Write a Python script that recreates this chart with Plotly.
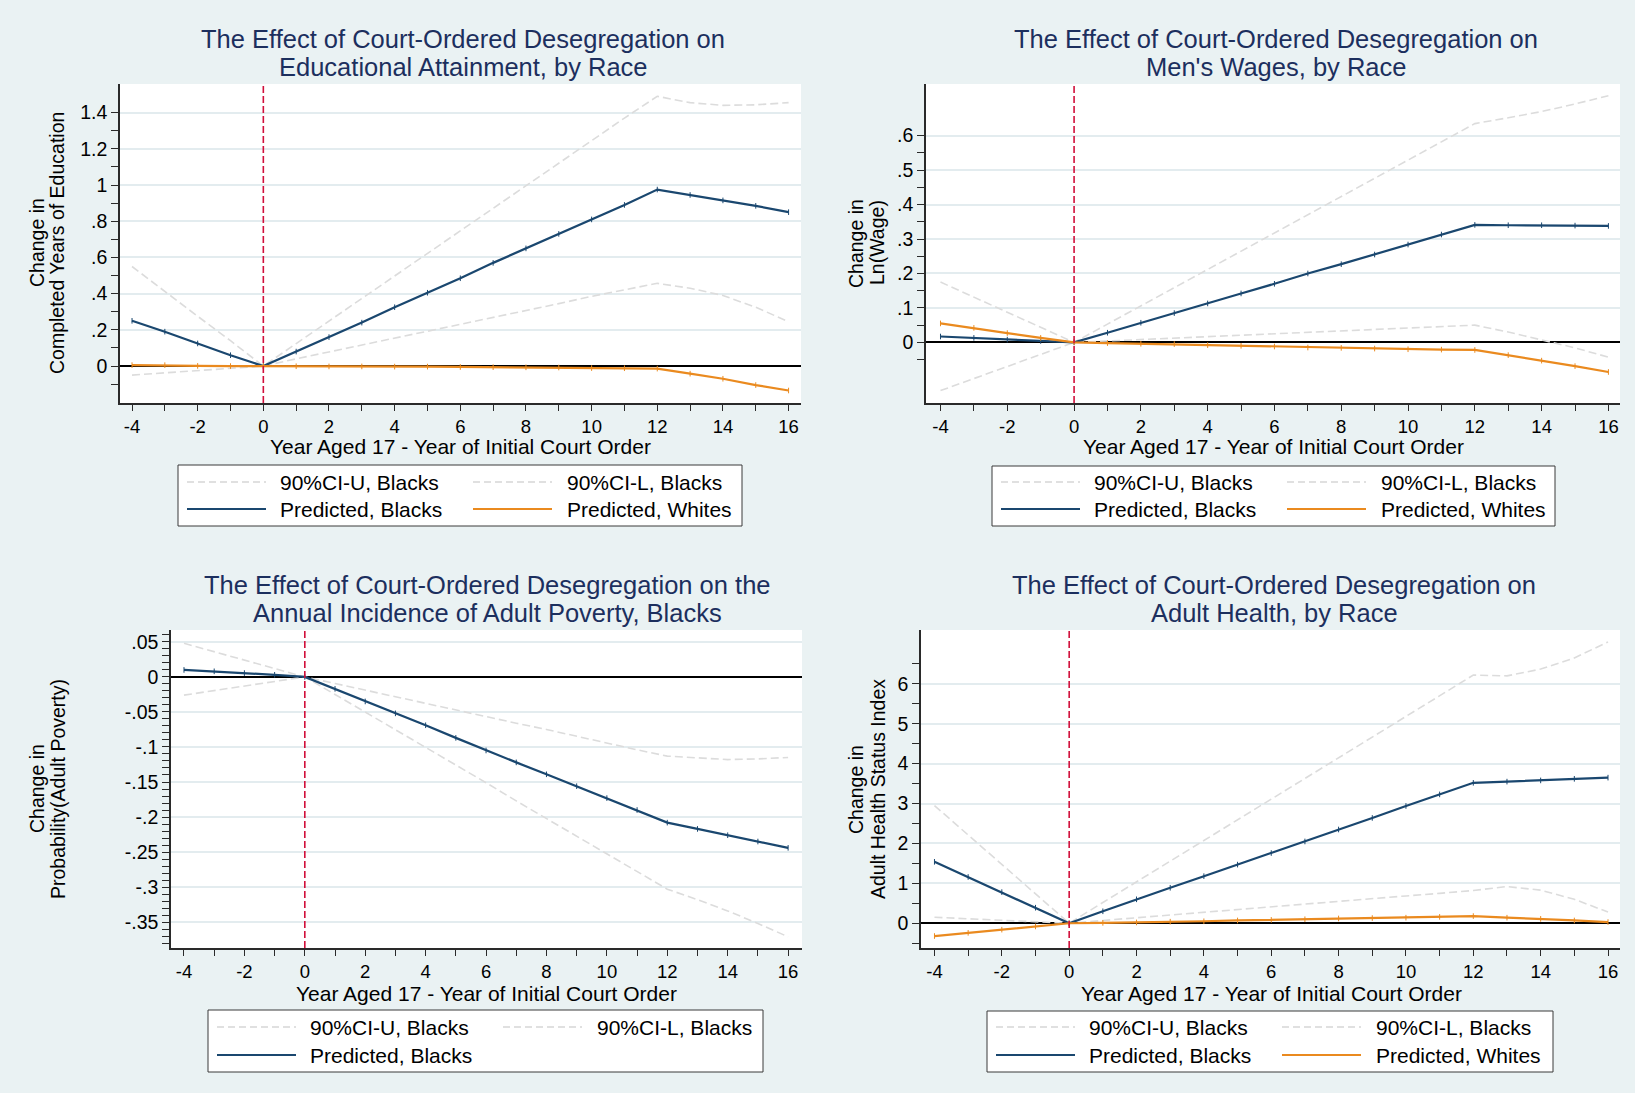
import plotly.graph_objects as go

W, H = 1635, 1093

# ---------------- data ----------------
years = list(range(-4, 17))
x_major = [-4, -2, 0, 2, 4, 6, 8, 10, 12, 14, 16]
x_minor = [-3, -1, 1, 3, 5, 7, 9, 11, 13, 15]

# Panel 1: Educational attainment
edu_ci_u = [0.55, 0.41, 0.275, 0.14, 0.0, 0.124, 0.248, 0.372, 0.497, 0.62, 0.745, 0.87,
            0.995, 1.12, 1.245, 1.37, 1.49, 1.455, 1.44, 1.443, 1.455]
edu_ci_l = [-0.05, -0.037, -0.025, -0.012, 0.0, 0.04, 0.078, 0.115, 0.153, 0.19, 0.228, 0.265,
            0.305, 0.345, 0.385, 0.42, 0.457, 0.43, 0.39, 0.325, 0.245]
edu_black = [0.25, 0.19, 0.125, 0.06, 0.0, 0.08, 0.16, 0.24, 0.325, 0.405, 0.485, 0.57,
             0.65, 0.73, 0.81, 0.89, 0.975, 0.945, 0.915, 0.885, 0.85]
edu_white = [0.005, 0.005, 0.001, 0.0, 0.0, -0.001, -0.002, -0.002, -0.003, -0.003, -0.005, -0.006,
             -0.007, -0.008, -0.011, -0.012, -0.014, -0.042, -0.07, -0.105, -0.135]

# Panel 2: Men's wages
wage_ci_u = [0.175, 0.131, 0.088, 0.044, 0.0, 0.053, 0.106, 0.159, 0.212, 0.265, 0.318, 0.371,
             0.424, 0.477, 0.53, 0.583, 0.635, 0.652, 0.67, 0.692, 0.716]
wage_ci_l = [-0.14, -0.105, -0.07, -0.035, 0.0, 0.004, 0.008, 0.012, 0.016, 0.02, 0.024, 0.028,
             0.032, 0.036, 0.041, 0.045, 0.05, 0.03, 0.008, -0.016, -0.043]
wage_black = [0.017, 0.013, 0.008, 0.004, 0.0, 0.028, 0.057, 0.085, 0.113, 0.142, 0.17, 0.2,
              0.227, 0.255, 0.284, 0.313, 0.341, 0.34, 0.34, 0.339, 0.338]
wage_white = [0.055, 0.042, 0.027, 0.013, 0.0, -0.002, -0.004, -0.005, -0.008, -0.01, -0.012, -0.015,
              -0.016, -0.018, -0.02, -0.021, -0.022, -0.037, -0.053, -0.069, -0.086]

# Panel 3: Adult poverty (Blacks only)
pov_ci_u = [0.048, 0.036, 0.024, 0.012, 0.0, -0.0094, -0.019, -0.028, -0.038, -0.047, -0.057, -0.066,
            -0.075, -0.085, -0.094, -0.104, -0.113, -0.116, -0.118, -0.117, -0.115]
pov_ci_l = [-0.026, -0.0195, -0.013, -0.0065, 0.0, -0.025, -0.05, -0.076, -0.101, -0.126, -0.151, -0.177,
            -0.202, -0.227, -0.252, -0.277, -0.303, -0.318, -0.334, -0.352, -0.371]
pov_black = [0.01, 0.008, 0.0055, 0.003, 0.0, -0.017, -0.035, -0.052, -0.069, -0.087, -0.105, -0.122,
             -0.139, -0.156, -0.173, -0.19, -0.208, -0.217, -0.226, -0.235, -0.244]

# Panel 4: Adult health
hlth_ci_u = [2.95, 2.21, 1.47, 0.74, 0.0, 0.52, 1.04, 1.56, 2.08, 2.6, 3.11, 3.63,
             4.15, 4.67, 5.19, 5.7, 6.22, 6.2, 6.37, 6.65, 7.05]
hlth_ci_l = [0.15, 0.11, 0.075, 0.04, 0.0, 0.07, 0.14, 0.21, 0.28, 0.35, 0.42, 0.485,
             0.55, 0.62, 0.685, 0.75, 0.82, 0.92, 0.83, 0.6, 0.28]
hlth_black = [1.54, 1.16, 0.78, 0.39, 0.0, 0.3, 0.6, 0.89, 1.18, 1.47, 1.76, 2.05,
              2.35, 2.64, 2.94, 3.23, 3.52, 3.55, 3.58, 3.62, 3.65]
hlth_white = [-0.32, -0.24, -0.16, -0.08, 0.0, 0.01, 0.02, 0.04, 0.05, 0.07, 0.085, 0.1,
              0.12, 0.13, 0.14, 0.16, 0.18, 0.14, 0.11, 0.07, 0.03]

# y tick labels
edu_yvals = [0, 0.2, 0.4, 0.6, 0.8, 1.0, 1.2, 1.4]
edu_ytext = ["0", ".2", ".4", ".6", ".8", "1", "1.2", "1.4"]
edu_yminor = [-0.1, 0.1, 0.3, 0.5, 0.7, 0.9, 1.1, 1.3]

wage_yvals = [0, 0.1, 0.2, 0.3, 0.4, 0.5, 0.6]
wage_ytext = ["0", ".1", ".2", ".3", ".4", ".5", ".6"]
wage_yminor = [-0.05, 0.05, 0.15, 0.25, 0.35, 0.45, 0.55]

pov_yvals = [0.05, 0, -0.05, -0.1, -0.15, -0.2, -0.25, -0.3, -0.35]
pov_ytext = [".05", "0", "-.05", "-.1", "-.15", "-.2", "-.25", "-.3", "-.35"]
pov_yminor = [-0.38, -0.37, -0.36, -0.34, -0.33, -0.32, -0.31, -0.29, -0.28, -0.27, -0.26,
              -0.24, -0.23, -0.22, -0.21, -0.19, -0.18, -0.17, -0.16, -0.14, -0.13, -0.12, -0.11,
              -0.09, -0.08, -0.07, -0.06, -0.04, -0.03, -0.02, -0.01, 0.01, 0.02, 0.03, 0.04, 0.06]

hlth_yvals = [0, 1, 2, 3, 4, 5, 6]
hlth_ytext = ["0", "1", "2", "3", "4", "5", "6"]
hlth_yminor = [-0.5, 0.5, 1.5, 2.5, 3.5, 4.5, 5.5, 6.5]

titles = [
    ["The Effect of Court-Ordered Desegregation on", "Educational Attainment, by Race"],
    ["The Effect of Court-Ordered Desegregation on", "Men's Wages, by Race"],
    ["The Effect of Court-Ordered Desegregation on the", "Annual Incidence of Adult Poverty, Blacks"],
    ["The Effect of Court-Ordered Desegregation on", "Adult Health, by Race"],
]
ytitles = [
    ["Change in", "Completed Years of Education"],
    ["Change in", "Ln(Wage)"],
    ["Change in", "Probability(Adult Poverty)"],
    ["Change in", "Adult Health Status Index"],
]
xtitle = "Year Aged 17 - Year of Initial Court Order"
leg_ci_u = "90%CI-U, Blacks"
leg_ci_l = "90%CI-L, Blacks"
leg_black = "Predicted, Blacks"
leg_white = "Predicted, Whites"

# ---------------- style ----------------
FONT = "Liberation Sans, Arial, sans-serif"
NAVY = "#1a476f"
ORANGE = "#ea8a1f"
CIC = "#dcdcdc"
RED = "#d1103b"
TCOL = "#1c2f5e"
BG = "#eaf2f3"
GRID = "#e3ecef"
AX = "#2a2a2a"


def fx(p):
    return p / W


def fy(p):
    return 1 - p / H


panels = [
    dict(series=[edu_ci_u, edu_ci_l, edu_black, edu_white], dx=(120, 801), dy=(84, 403),
         xr=(-4.366, 16.378), yr=(-0.204, 1.558), yv=edu_yvals, yt=edu_ytext, ym=edu_yminor,
         tc=463, tl=(38.5, 67), ytx=(37, 57), yty=243, xtx=460, xty=446,
         leg=(178, 742, 465, 526), rows=(482, 509)),
    dict(series=[wage_ci_u, wage_ci_l, wage_black, wage_white], dx=(926, 1620), dy=(84, 403),
         xr=(-4.434, 16.347), yr=(-0.176, 0.75), yv=wage_yvals, yt=wage_ytext, ym=wage_yminor,
         tc=1276, tl=(38.5, 67), ytx=(856, 877), yty=243, xtx=1273, xty=446,
         leg=(992, 1555, 466, 526), rows=(482, 509)),
    dict(series=[pov_ci_u, pov_ci_l, pov_black], dx=(171, 802), dy=(630, 948),
         xr=(-4.43, 16.46), yr=(-0.387, 0.067), yv=pov_yvals, yt=pov_ytext, ym=pov_yminor,
         tc=488, tl=(584.5, 613), ytx=(37, 58), yty=789, xtx=486, xty=993,
         leg=(208, 763, 1010, 1072), rows=(1027, 1055)),
    dict(series=[hlth_ci_u, hlth_ci_l, hlth_black, hlth_white], dx=(921, 1620), dy=(630, 948),
         xr=(-4.40, 16.356), yr=(-0.62, 7.35), yv=hlth_yvals, yt=hlth_ytext, ym=hlth_yminor,
         tc=1274, tl=(584.5, 613), ytx=(856, 878), yty=789, xtx=1271, xty=993,
         leg=(987, 1553, 1011, 1072), rows=(1027, 1055)),
]

names = [leg_ci_u, leg_ci_l, leg_black, leg_white]
colors = [CIC, CIC, NAVY, ORANGE]

fig = go.Figure()
shapes = []
annots = []
layout = {}

for i, p in enumerate(panels, start=1):
    sfx = "" if i == 1 else str(i)
    xa, ya = "x" + sfx, "y" + sfx
    for k, ys in enumerate(p["series"]):
        if k < 2:
            fig.add_trace(go.Scatter(x=years, y=ys, mode="lines", name=names[k], xaxis=xa, yaxis=ya,
                                     line=dict(color=CIC, width=1.6, dash="8px,4px"),
                                     showlegend=False, hoverinfo="skip"))
        else:
            fig.add_trace(go.Scatter(x=years, y=ys, mode="lines+markers", name=names[k],
                                     xaxis=xa, yaxis=ya,
                                     line=dict(color=colors[k], width=2.2),
                                     marker=dict(symbol="line-ns", size=4,
                                                 line=dict(color=colors[k], width=1)),
                                     showlegend=False))
    layout["xaxis" + sfx] = dict(
        domain=[fx(p["dx"][0]), fx(p["dx"][1])], anchor=ya, range=list(p["xr"]),
        tickmode="array", tickvals=x_major, ticktext=[str(v) for v in x_major],
        ticks="outside", ticklen=6, tickwidth=1, tickcolor=AX,
        minor=dict(tickmode="array", tickvals=x_minor, ticks="outside", ticklen=6,
                   tickwidth=1, tickcolor=AX, showgrid=False),
        showgrid=False, zeroline=False, showline=True, linecolor=AX, linewidth=1.5,
        tickfont=dict(family=FONT, size=18.5, color="black"), fixedrange=True)
    layout["yaxis" + sfx] = dict(
        domain=[fy(p["dy"][1]), fy(p["dy"][0])], anchor=xa, range=list(p["yr"]),
        tickmode="array", tickvals=p["yv"], ticktext=p["yt"],
        ticks="outside", ticklen=7, tickwidth=1, tickcolor=AX,
        minor=dict(tickmode="array", tickvals=p["ym"], ticks="outside", ticklen=7,
                   tickwidth=1, tickcolor=AX, showgrid=False),
        showgrid=True, gridcolor=GRID, gridwidth=2,
        zeroline=True, zerolinecolor="black", zerolinewidth=2,
        showline=True, linecolor=AX, linewidth=1.5,
        tickfont=dict(family=FONT, size=19.5, color="black"), fixedrange=True)

    # vertical reference line at x = 0
    shapes.append(dict(type="line", xref=xa, x0=0, x1=0, yref=ya + " domain", y0=0, y1=1,
                       line=dict(color=RED, width=1.6, dash="7px,3px"), layer="above"))

    # titles
    for t, yy in zip(titles[i - 1], p["tl"]):
        annots.append(dict(text=t, xref="paper", yref="paper", x=fx(p["tc"]), y=fy(yy),
                           xanchor="center", yanchor="middle", showarrow=False,
                           font=dict(family=FONT, size=25.5, color=TCOL)))
    for t, xx in zip(ytitles[i - 1], p["ytx"]):
        annots.append(dict(text=t, xref="paper", yref="paper", x=fx(xx), y=fy(p["yty"]),
                           xanchor="center", yanchor="middle", textangle=-90, showarrow=False,
                           font=dict(family=FONT, size=19.5, color="black")))
    annots.append(dict(text=xtitle, xref="paper", yref="paper", x=fx(p["xtx"]), y=fy(p["xty"]),
                       xanchor="center", yanchor="middle", showarrow=False,
                       font=dict(family=FONT, size=21, color="black")))

    # legend box
    L, R, T, B = p["leg"]
    shapes.append(dict(type="rect", xref="paper", yref="paper", x0=fx(L), x1=fx(R), y0=fy(B), y1=fy(T),
                       fillcolor="white", line=dict(color="#3a3a3a", width=1), layer="above"))
    n_items = len(p["series"])
    for k in range(n_items):
        row, col = divmod(k, 2)
        yy = p["rows"][row]
        s0 = L + 9 + col * 286
        s1 = s0 + 79
        tx = L + 100 + col * 287
        if k < 2:
            ln = dict(color="#d6d6d6", width=1.6, dash="7px,4px")
        else:
            ln = dict(color=colors[k], width=2)
        shapes.append(dict(type="line", xref="paper", yref="paper", x0=fx(s0), x1=fx(s1),
                           y0=fy(yy), y1=fy(yy), line=ln, layer="above"))
        annots.append(dict(text=names[k], xref="paper", yref="paper", x=fx(tx), y=fy(yy),
                           xanchor="left", yanchor="middle", showarrow=False,
                           font=dict(family=FONT, size=21, color="black")))

fig.update_layout(
    width=W, height=H, autosize=False,
    margin=dict(l=0, r=0, t=0, b=0, pad=0),
    paper_bgcolor=BG, plot_bgcolor="white",
    showlegend=False, shapes=shapes, annotations=annots,
    font=dict(family=FONT, color="black"),
    **layout,
)

fig.write_html("out.html", config={"displayModeBar": False},
               post_script="document.body.style.margin='0';document.body.style.overflow='hidden';")
